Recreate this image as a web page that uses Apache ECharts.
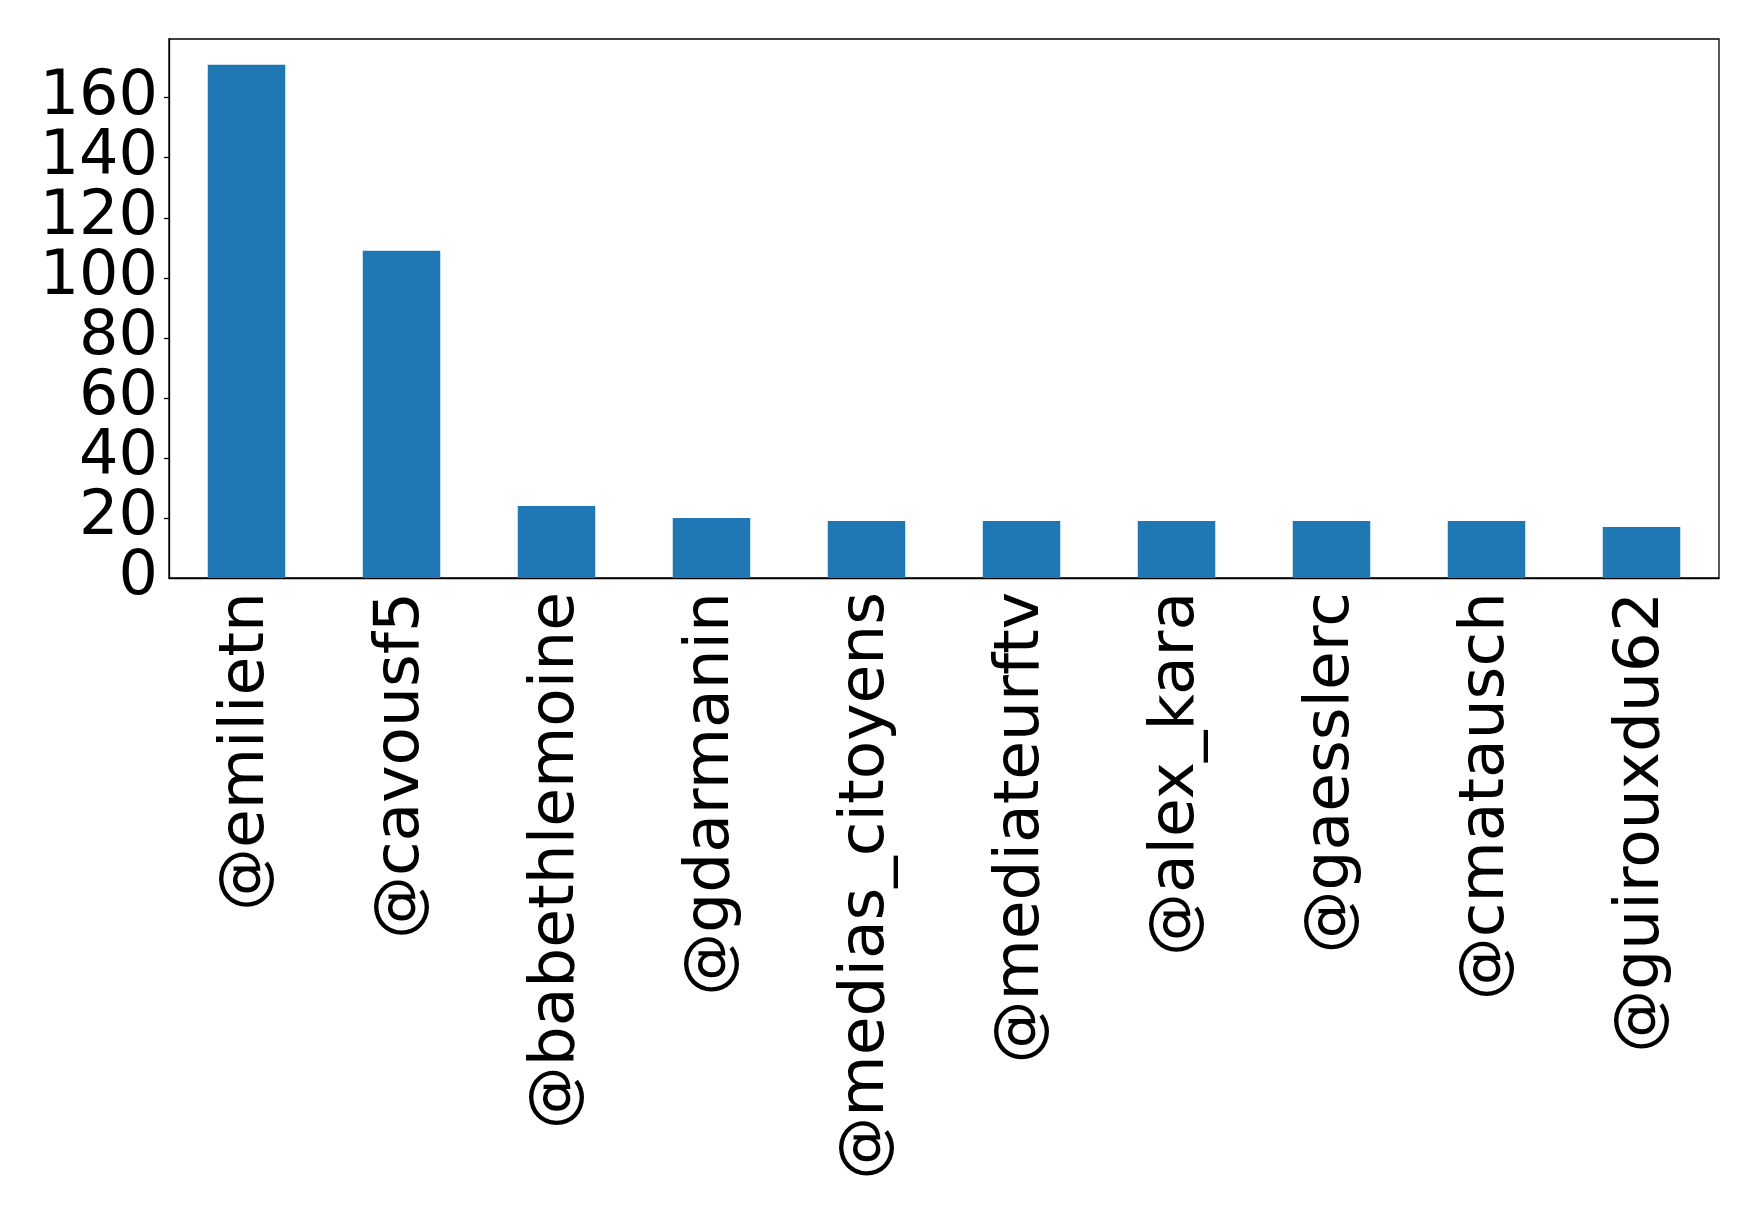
<!DOCTYPE html>
<html>
<head>
<meta charset="UTF-8">
<title>top accounts</title>
<script src="https://cdn.jsdelivr.net/npm/echarts@6/dist/echarts.min.js"></script>
<style type="text/css">
	html, body { margin: 0; padding: 0; background: #fff; }
	#main { width: 1758px; height: 1211px; }
</style>
</head>
<body>
<div id="main"></div>
<script type="text/javascript">
	var accounts = ['@emilietn', '@cavousf5', '@babethlemoine', '@gdarmanin', '@medias_citoyens',
		'@mediateurftv', '@alex_kara', '@gaesslerc', '@cmatausch', '@guirouxdu62']
	var counts = [171, 109, 24, 20, 19, 19, 19, 19, 19, 17]
	var yTicks = [0, 20, 40, 60, 80, 100, 120, 140, 160]

	var yMax = Math.max.apply(null, counts) * 1.05
	var fontFam = 'DejaVu Sans'

	// label style shared by both y axes
	var yLabel = {
		margin: 11,
		color: '#000',
		fontSize: 62,
		fontFamily: fontFam
	}

	var myChart = echarts.init(document.getElementById('main'))
	option = {
		animation: false,
		backgroundColor: '#ffffff',
		grid: {
			left: 169,
			right: 39,
			top: 39,
			bottom: 633,
			show: true,
			borderColor: '#000',
			borderWidth: 1.3,
			backgroundColor: 'transparent'
		},
		xAxis: {
			type: 'category',
			data: accounts,
			boundaryGap: true,
			axisLine: { lineStyle: { color: '#000', width: 1.3 } },
			axisTick: { alignWithLabel: true, length: 5, lineStyle: { color: '#000', width: 1.3 } },
			axisLabel: {
				rotate: 90,
				interval: 0,
				margin: 14,
				color: '#000',
				fontSize: 63,
				fontFamily: fontFam
			}
		},
		yAxis: [{
			type: 'value',
			position: 'left',
			min: 0,
			max: yMax,
			interval: 20,
			splitLine: { show: false },
			axisLine: { show: true, lineStyle: { color: '#000', width: 1.3 } },
			axisTick: { show: true, length: 5, lineStyle: { color: '#000', width: 1.3 } },
			axisLabel: Object.assign({
				showMinLabel: false,
				showMaxLabel: false,
				formatter: function (v) {
					return (v > 0 && yTicks.indexOf(v) >= 0) ? String(v) : ''
				}
			}, yLabel)
		}, {
			// only carries the "0" label, which the first axis drops next to "20"
			type: 'value',
			position: 'left',
			min: 0,
			max: yMax,
			interval: 20,
			splitLine: { show: false },
			axisLine: { show: false },
			axisTick: { show: false },
			axisLabel: Object.assign({
				showMinLabel: true,
				showMaxLabel: false,
				formatter: function (v) {
					return v === 0 ? '0' : ''
				}
			}, yLabel)
		}],
		series: [{
			type: 'bar',
			data: counts,
			yAxisIndex: 0,
			barWidth: '50%',
			itemStyle: { color: '#1f77b4' }
		}]
	}
	myChart.setOption(option)
</script>
</body>
</html>
